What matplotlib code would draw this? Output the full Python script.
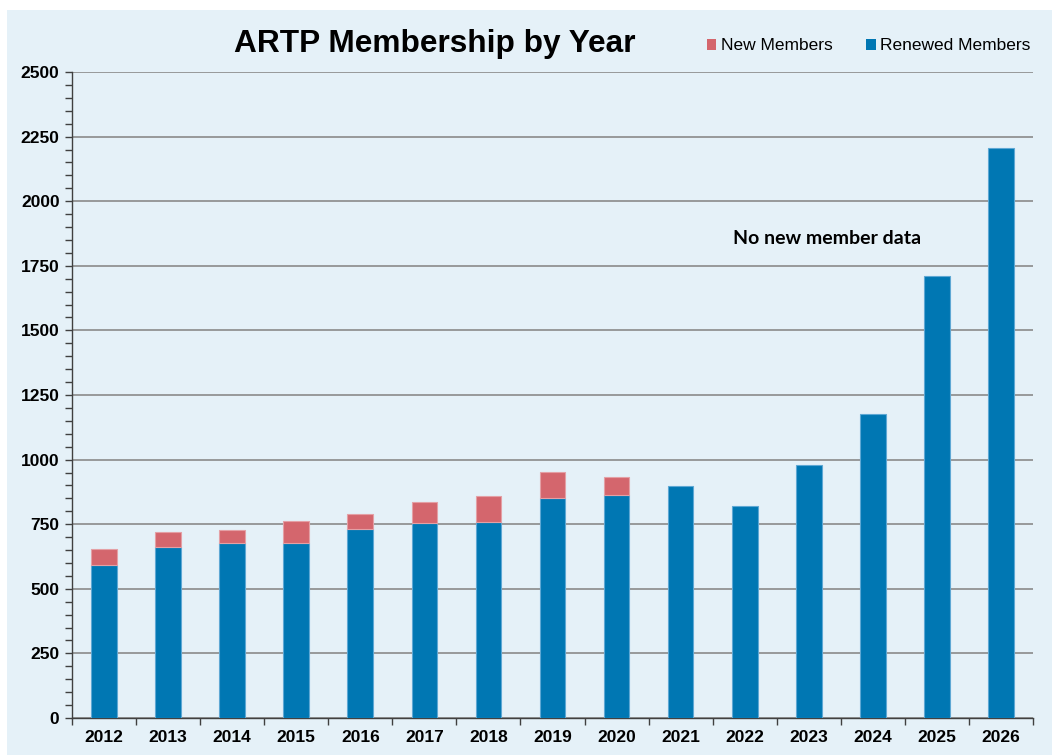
"""ARTP membership by year, stacked bars."""

import matplotlib

matplotlib.use("Agg")
import matplotlib.pyplot as plt
from matplotlib.patches import Rectangle
from matplotlib.ticker import MultipleLocator, FixedLocator

plt.rcParams["font.family"] = ["Liberation Sans", "DejaVu Sans"]

YEARS = ["2012", "2013", "2014", "2015", "2016", "2017", "2018", "2019",
         "2020", "2021", "2022", "2023", "2024", "2025", "2026"]
RENEWED = [591, 662, 677, 677, 731, 753, 760, 850, 863, 898, 820, 979, 1175, 1710, 2207]
# no new-member data from 2021 on
NEW = [62, 57, 52, 87, 57, 82, 99, 102, 70, None, None, None, None, None, None]

BG = "#E5F1F8"
BLUE = "#0077B3"
RED = "#D4666D"


def main() -> None:
    fig = plt.figure(figsize=(10.52, 7.55), dpi=100, facecolor="white")
    fig.patches.append(Rectangle((7 / 1052, 0), 1, 1 - 10 / 755,
                                 transform=fig.transFigure, facecolor=BG,
                                 edgecolor="none", zorder=-10))
    ax = fig.add_axes([72 / 1052, 37 / 755, (1033 - 72) / 1052, (718 - 72) / 755])
    ax.set_facecolor(BG)

    x = list(range(len(YEARS)))
    ax.bar(x, RENEWED, width=0.4, color=BLUE, edgecolor="#5EA8D4",
           linewidth=0.8, label="Renewed Members", zorder=3)
    has_new = [i for i, v in enumerate(NEW) if v is not None]
    ax.bar(has_new, [NEW[i] for i in has_new], width=0.4,
           bottom=[RENEWED[i] for i in has_new], color=RED, edgecolor="#E4A0A5",
           linewidth=0.8, label="New Members", zorder=3)

    ax.set_xlim(-0.5, len(YEARS) - 0.5)
    ax.set_ylim(0, 2500)
    ax.yaxis.set_major_locator(MultipleLocator(250))
    ax.yaxis.set_minor_locator(MultipleLocator(50))
    ax.set_xticks(x)
    ax.set_xticklabels(YEARS)
    ax.xaxis.set_minor_locator(FixedLocator([i + 0.5 for i in range(-1, len(YEARS))]))
    ax.tick_params(axis="x", which="major", length=0, pad=9, labelsize=12.5)
    ax.tick_params(axis="x", which="minor", length=5, width=1, color="#404040")
    ax.tick_params(axis="y", which="both", length=5, width=1, color="#404040",
                   labelsize=12.5, pad=4)
    for lab in ax.get_xticklabels() + ax.get_yticklabels():
        lab.set_fontweight("bold")

    ax.grid(axis="y", which="major", color="#8A8A8A", linewidth=1.2, zorder=1)
    ax.set_axisbelow(True)
    for side in ("top", "right"):
        ax.spines[side].set_visible(False)
    for side in ("left", "bottom"):
        ax.spines[side].set_color("#404040")
        ax.spines[side].set_linewidth(1.0)

    fig.text(435 / 1052, 1 - 44 / 755, "ARTP Membership by Year", ha="center",
             va="center", fontsize=22.8, fontweight="bold")

    handles, labels = ax.get_legend_handles_labels()
    leg = fig.legend(handles[::-1], labels[::-1], loc="center right",
                     bbox_to_anchor=(1046 / 1052, 1 - 46 / 755), ncol=2,
                     frameon=False, fontsize=12.5, handlelength=0.55,
                     handleheight=0.55, handletextpad=0.25, columnspacing=1.95)
    for h in leg.legend_handles:
        h.set_edgecolor("none")

    ax.text(11.28, 1855, "No new member data", ha="center", va="center",
            fontsize=14, fontweight="bold", family=["Lato", "DejaVu Sans"])

    fig.savefig("out.png", dpi=100, facecolor="white")


main() if __name__ == "__main__" else None
